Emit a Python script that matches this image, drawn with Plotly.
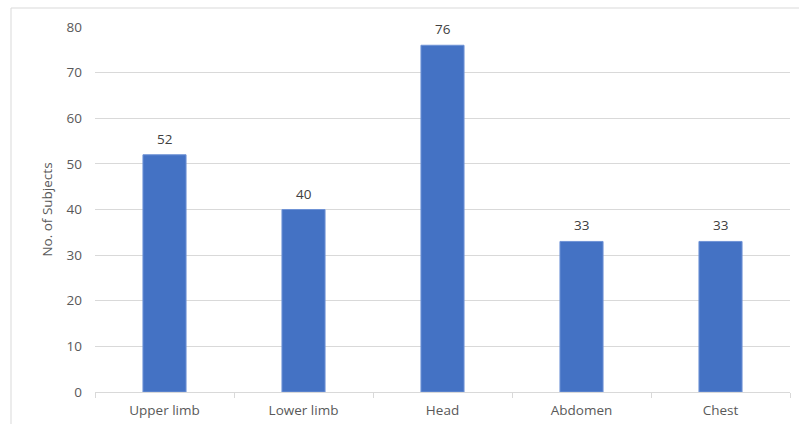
import plotly.graph_objects as go

categories = ["Upper limb", "Lower limb", "Head", "Abdomen", "Chest"]
values = [52, 40, 76, 33, 33]
y_ticks = [0, 10, 20, 30, 40, 50, 60, 70, 80]

W, H = 799, 424
ml, mr, mt, mb = 95, 9, 27, 32
pw, ph = W - ml - mr, H - mt - mb

fig = go.Figure()
fig.add_trace(go.Bar(
    x=categories, y=values,
    marker=dict(color="#4472C4", line=dict(color="#6f93d6", width=1)),
    width=0.31,
))

for c, v in zip(categories, values):
    fig.add_annotation(x=c, y=v, text=str(v), showarrow=False,
                       yanchor="bottom", yshift=5,
                       font=dict(family="Open Sans", size=13.5, color="#404040"))

fig.update_layout(
    width=W, height=H,
    margin=dict(l=ml, r=mr, t=mt, b=mb, autoexpand=False),
    paper_bgcolor="white", plot_bgcolor="white",
    showlegend=False,
    font=dict(family="Open Sans", size=13.5, color="#595959"),
    xaxis=dict(
        automargin=False,
        showgrid=False, showline=True, linecolor="#d9d9d9", linewidth=1,
        ticks="outside", ticklen=5, tickcolor="#d9d9d9",
        tickson="boundaries",
        tickfont=dict(size=13.5, color="#595959"),
        ticklabelstandoff=6,
    ),
    yaxis=dict(
        automargin=False,
        range=[0, 80], tickvals=y_ticks,
        showgrid=True, gridcolor="#d9d9d9", gridwidth=1,
        zeroline=False, showline=False,
        tickfont=dict(size=13.5, color="#595959"),
        ticklabelstandoff=12,
        title=dict(text="No. of Subjects", font=dict(size=13.5, color="#595959"), standoff=10),
    ),
    shapes=[
        dict(type="line", xref="paper", yref="paper",
             x0=(11 - ml) / pw, x1=(W + 5 - ml) / pw,
             y0=1 + (mt - 8) / ph, y1=1 + (mt - 8) / ph,
             line=dict(color="#d9d9d9", width=1)),
        dict(type="line", xref="paper", yref="paper",
             x0=(11 - ml) / pw, x1=(11 - ml) / pw,
             y0=1 + (mt - 8) / ph, y1=-(mb + 5) / ph,
             line=dict(color="#d9d9d9", width=1)),
    ],
)

fig.write_html("out.html")
